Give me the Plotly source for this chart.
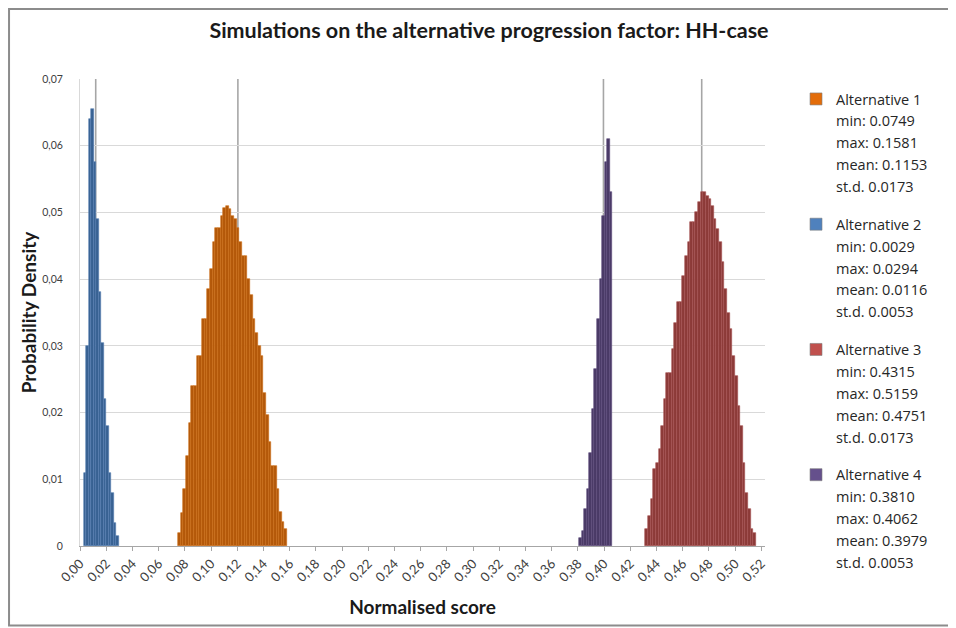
import plotly.graph_objects as go

# ---------------- data ----------------
names = ["Alternative 1", "Alternative 2", "Alternative 3", "Alternative 4"]
alt_min = [0.0749, 0.0029, 0.4315, 0.3810]
alt_max = [0.1581, 0.0294, 0.5159, 0.4062]
alt_mean = [0.1153, 0.0116, 0.4751, 0.3979]
alt_sd = [0.0173, 0.0053, 0.0173, 0.0053]
ref_line = [0.1205, 0.0120, 0.4745, 0.3995]   # grey vertical marker per alternative

dens_alt1 = [0.0020, 0.0050, 0.0085, 0.0135, 0.0185, 0.0240, 0.0240, 0.0285, 0.0285,
             0.0340, 0.0340, 0.0385, 0.0415, 0.0455, 0.0476, 0.0476, 0.0495, 0.0506,
             0.0510, 0.0505, 0.0495, 0.0490, 0.0476, 0.0456, 0.0435, 0.0435, 0.0400,
             0.0376, 0.0340, 0.0320, 0.0300, 0.0285, 0.0230, 0.0196, 0.0156, 0.0120,
             0.0120, 0.0086, 0.0051, 0.0036, 0.0026]
dens_alt2 = [0.0110, 0.0300, 0.0640, 0.0655, 0.0575, 0.0490, 0.0380, 0.0305, 0.0220,
             0.0180, 0.0110, 0.0080, 0.0035, 0.0015]
dens_alt3 = [0.0026, 0.0045, 0.0070, 0.0115, 0.0125, 0.0146, 0.0180, 0.0220, 0.0260,
             0.0260, 0.0295, 0.0335, 0.0365, 0.0365, 0.0405, 0.0435, 0.0455, 0.0485,
             0.0485, 0.0500, 0.0516, 0.0530, 0.0530, 0.0525, 0.0520, 0.0510, 0.0490,
             0.0475, 0.0455, 0.0425, 0.0385, 0.0350, 0.0325, 0.0285, 0.0255, 0.0210,
             0.0180, 0.0125, 0.0080, 0.0055, 0.0026, 0.0020]
dens_alt4 = [0.0012, 0.0023, 0.0056, 0.0085, 0.0140, 0.0205, 0.0265, 0.0340, 0.0400,
             0.0495, 0.0575, 0.0610, 0.0530]
densities = [dens_alt1, dens_alt2, dens_alt3, dens_alt4]

x_ticks_step = 0.02
y_tickvals = [0, 0.01, 0.02, 0.03, 0.04, 0.05, 0.06, 0.07]
y_ticktext = ["0", "0,01", "0,02", "0,03", "0,04", "0,05", "0,06", "0,07"]

# ---------------- styling ----------------
bar_fill = ["#B3580A", "#386192", "#8C3A38", "#4A3A66"]
bar_edge = ["#CF6E16", "#5580B2", "#A65250", "#5E4C7E"]
swatch = ["#E36C09", "#4F81BD", "#C0504D", "#65508C"]
FONT = "Lato"
LEGFONT = "Open Sans"

fig = go.Figure()

# histogram bars (bins spread evenly between the reported min and max)
for k in range(4):
    n = len(densities[k])
    w = (alt_max[k] - alt_min[k]) / n
    centers = [alt_min[k] + (i + 0.5) * w for i in range(n)]
    fig.add_trace(go.Bar(
        x=centers, y=densities[k], width=w,
        marker=dict(color=bar_fill[k], line=dict(color=bar_edge[k], width=0.6)),
        name=names[k], legendgroup=names[k], showlegend=False,
        hovertemplate="%{x:.4f}: %{y:.4f}<extra>" + names[k] + "</extra>",
    ))

# legend entries: header with swatch + statistic lines
for k in range(4):
    fig.add_trace(go.Bar(
        x=[None], y=[None], name=names[k], legendgroup=names[k],
        marker=dict(color=swatch[k], line=dict(color="#7f7f7f", width=0.6)),
        showlegend=True, hoverinfo="skip",
    ))
    stats = [f"min: {alt_min[k]:.4f}", f"max: {alt_max[k]:.4f}",
             f"mean: {alt_mean[k]:.4f}", f"st.d. {alt_sd[k]:.4f}"]
    for s in stats:
        fig.add_trace(go.Scatter(
            x=[None], y=[None], mode="none", name=s, legendgroup=names[k],
            showlegend=True, hoverinfo="skip",
        ))

# grey vertical markers
for k in range(4):
    fig.add_shape(type="line", xref="x", yref="paper",
                  x0=ref_line[k], x1=ref_line[k], y0=0, y1=1,
                  line=dict(color="#A6A6A6", width=1.6), layer="between")

# outer frame
fig.add_shape(type="rect", xref="paper", yref="paper",
              x0=-0.1036, x1=1.2715, y0=-0.170, y1=1.150,
              line=dict(color="#8c8c8c", width=2), fillcolor="rgba(0,0,0,0)",
              layer="below")

fig.update_layout(
    width=948, height=620,
    margin=dict(l=72, r=191, t=71, b=82, autoexpand=False),
    paper_bgcolor="white", plot_bgcolor="white",
    separators=", ",
    barmode="overlay", bargap=0,
    font=dict(family=FONT, color="#262626"),
    title=dict(text="<b>Simulations on the alternative progression factor: HH-case</b>",
               x=0.5074, xanchor="center", y=0.9645, yanchor="middle",
               font=dict(family=FONT, size=21.5, color="#1a1a1a")),
    legend=dict(x=1.0453, xanchor="left", yref="container", y=0.879, yanchor="top",
                maxheight=580,
                traceorder="grouped", tracegroupgap=16,
                font=dict(family=LEGFONT, size=14.5, color="#262626"),
                bgcolor="rgba(0,0,0,0)", itemclick=False, itemdoubleclick=False),
    xaxis=dict(range=[0, 0.5228], tick0=0, dtick=x_ticks_step, tickformat=".2f",
               tickangle=-45, ticks="outside", ticklen=4, tickcolor="#a6a6a6",
               showline=True, linecolor="#a6a6a6", linewidth=1,
               showgrid=False, zeroline=False,
               tickfont=dict(family=FONT, size=13, color="#404040"),
               title=dict(text="<b>Normalised score</b>", standoff=16,
                          font=dict(family=FONT, size=19, color="#1a1a1a"))),
    yaxis=dict(range=[0, 0.07], tickvals=y_tickvals, ticktext=y_ticktext,
               showgrid=True, gridcolor="#d9d9d9", gridwidth=1,
               showline=True, linecolor="#d9d9d9", zeroline=False,
               ticks="", ticklabelstandoff=14,
               tickfont=dict(family=FONT, size=10.5, color="#404040"),
               title=dict(text="<b>Probability Density</b>", standoff=0,
                          font=dict(family=FONT, size=19, color="#1a1a1a"))),
)

fig.write_html("out.html")
